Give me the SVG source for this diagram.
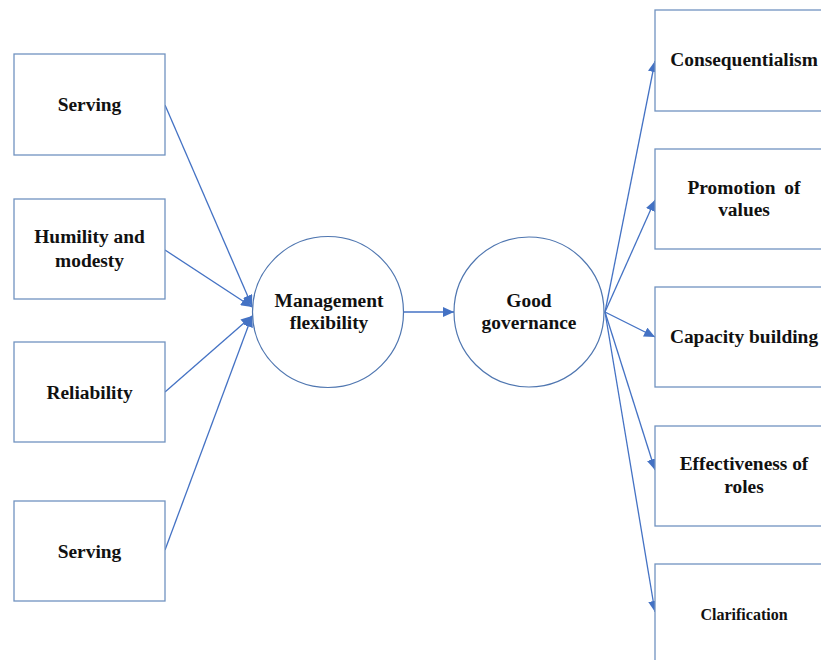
<svg xmlns="http://www.w3.org/2000/svg" width="821" height="660" viewBox="0 0 821 660">
<style>
.box{fill:#fff;stroke:#7193c0;stroke-width:1.3}
.circ{fill:#fff;stroke:#4f76b0;stroke-width:1.2}
.t{font-family:'Liberation Serif','Times New Roman','DejaVu Serif',serif;font-weight:700;font-size:19.4px;fill:#111;text-anchor:middle}
.ts{font-size:16px}
.c{stroke:#4472c4;stroke-width:1.3;fill:none;marker-end:url(#ah)}
</style>
<defs>
<marker id="ah" markerUnits="userSpaceOnUse" markerWidth="12" markerHeight="10" refX="11" refY="5" orient="auto">
<path d="M0,0 L11,5 L0,10 Z" fill="#4472c4"/>
</marker>
</defs>
<rect width="821" height="660" fill="#fff"/>
<g id="connectors">
<line class="c" x1="165" y1="105" x2="252" y2="306"/>
<line class="c" x1="165" y1="250" x2="252" y2="307"/>
<line class="c" x1="165" y1="392" x2="252" y2="316"/>
<line class="c" x1="165" y1="550" x2="252" y2="316"/>
<line class="c" x1="404" y1="312" x2="454" y2="312"/>
<line class="c" x1="605" y1="312" x2="655" y2="61"/>
<line class="c" x1="605" y1="312" x2="655" y2="200"/>
<line class="c" x1="605" y1="312" x2="655" y2="337"/>
<line class="c" x1="605" y1="312" x2="655" y2="470"/>
<line class="c" x1="605" y1="312" x2="655" y2="612"/>
</g>
<g id="n-serving1"><rect class="box" x="14" y="54" width="151" height="101"/><text class="t" x="89.5" y="111" font-family="Liberation Serif, serif">Serving</text></g>
<g id="n-humility"><rect class="box" x="14" y="199" width="151" height="100"/><text class="t" x="89.5" y="243" font-family="Liberation Serif, serif">Humility and</text><text class="t" x="89.5" y="266.5" font-family="Liberation Serif, serif">modesty</text></g>
<g id="n-reliability"><rect class="box" x="14" y="342" width="151" height="100"/><text class="t" x="89.5" y="399" font-family="Liberation Serif, serif">Reliability</text></g>
<g id="n-serving2"><rect class="box" x="14" y="501" width="151" height="100"/><text class="t" x="89.5" y="558" font-family="Liberation Serif, serif">Serving</text></g>
<g id="n-management"><circle class="circ" cx="328" cy="312" r="75.5"/><text class="t" x="329" y="307" font-family="Liberation Serif, serif">Management</text><text class="t" x="329" y="329" font-family="Liberation Serif, serif">flexibility</text></g>
<g id="n-governance"><circle class="circ" cx="529" cy="312" r="75"/><text class="t" x="529" y="307" font-family="Liberation Serif, serif">Good</text><text class="t" x="529" y="329" font-family="Liberation Serif, serif">governance</text></g>
<g id="n-consequentialism"><rect class="box" x="655" y="10" width="180" height="101"/><text class="t" x="744" y="66" font-family="Liberation Serif, serif">Consequentialism</text></g>
<g id="n-promotion"><rect class="box" x="655" y="149" width="180" height="100"/><text class="t" x="744" y="193.5" style="word-spacing:4px" font-family="Liberation Serif, serif">Promotion of</text><text class="t" x="744" y="216" font-family="Liberation Serif, serif">values</text></g>
<g id="n-capacity"><rect class="box" x="655" y="287" width="180" height="100"/><text class="t" x="744" y="343" font-family="Liberation Serif, serif">Capacity building</text></g>
<g id="n-effectiveness"><rect class="box" x="655" y="426" width="180" height="100"/><text class="t" x="744" y="470" font-family="Liberation Serif, serif">Effectiveness of</text><text class="t" x="744" y="493" font-family="Liberation Serif, serif">roles</text></g>
<g id="n-clarification"><rect class="box" x="655" y="564" width="180" height="120"/><text class="t ts" x="744" y="620" font-family="Liberation Serif, serif">Clarification</text></g>
</svg>
